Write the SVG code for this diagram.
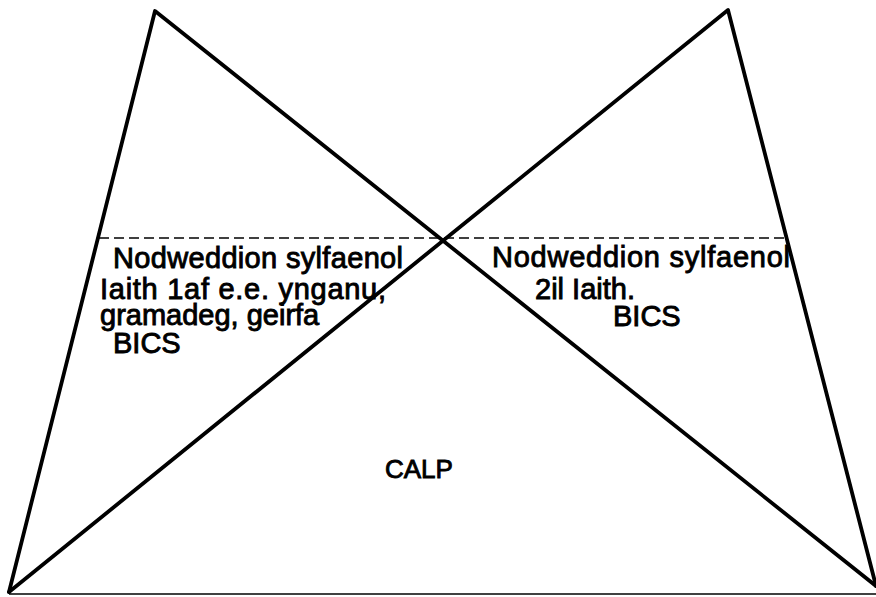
<svg xmlns="http://www.w3.org/2000/svg" width="876" height="597" viewBox="0 0 876 597">
<style>
.ln{stroke:#000;stroke-width:3.8;fill:none;stroke-linecap:round;stroke-linejoin:round}
.dash{stroke:#000;stroke-width:1.4;fill:none;stroke-dasharray:10 5}
.base{stroke:#000;stroke-width:1.6;fill:none}
.t{font-family:"Liberation Sans",Arial,sans-serif;font-size:29px;fill:#000;stroke:#000;stroke-width:0.9}
.c{font-size:26px}
</style>
<rect width="876" height="597" fill="#fff"/>
<g id="connectors">
<line class="dash" x1="99" y1="238" x2="788" y2="238"/>
<polyline class="ln" points="9,592 155,11 876,586"/>
<polyline class="ln" points="9,592 728,10 876,586"/>
<line class="base" x1="9" y1="594" x2="876" y2="594"/>
</g>
<g id="left-text">
<text class="t" x="113" y="268" textLength="290">Nodweddion sylfaenol</text>
<text class="t" x="100" y="299" textLength="286">Iaith 1af e.e. ynganu,</text>
<text class="t" x="100" y="325">gramadeg, geirfa</text>
<text class="t" x="113" y="353">BICS</text>
</g>
<g id="right-text">
<text class="t" x="492" y="267" textLength="298">Nodweddion sylfaenol</text>
<text class="t" x="535" y="299">2il Iaith.</text>
<text class="t" x="613" y="326">BICS</text>
</g>
<g id="center-text">
<text class="t c" x="385" y="478">CALP</text>
</g>
</svg>
